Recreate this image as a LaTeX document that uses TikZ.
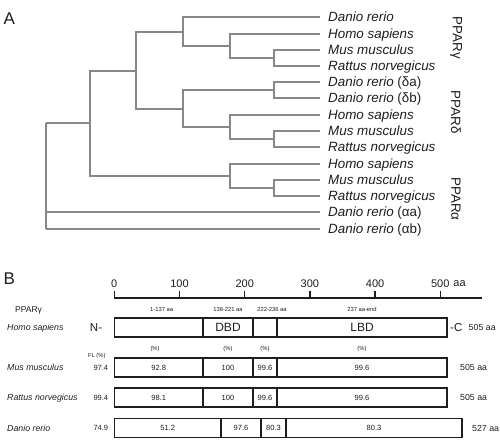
\documentclass[tikz,border=0pt]{standalone}
\usepackage{fontspec}
\setmainfont{Liberation Sans}
\usetikzlibrary{positioning}

\definecolor{branch}{RGB}{136,136,136}
\definecolor{ink}{RGB}{30,30,30}

\begin{document}
\begin{tikzpicture}[x=1pt, y=-1pt,
    hline/.style={draw=branch, line width=2pt},
    vline/.style={draw=branch, line width=2.8pt, line cap=rect},
    leaf/.style={anchor=west, inner xsep=8pt, inner ysep=0pt, text height=9.5pt, text depth=0pt,
                 font=\fontsize{13.4}{15}\selectfont\itshape, text=ink},
    group/.style={rotate=-90, inner sep=0pt, font=\fontsize{13.4}{15}\selectfont, text=ink},
    panel/.style={inner sep=0pt, text depth=0pt, font=\fontsize{17}{20}\selectfont, text=ink},
    axis/.style={draw=ink, line width=1.5pt},
    ticklab/.style={inner sep=1pt, text depth=0pt, font=\fontsize{11}{13}\selectfont, text=ink},
    seg/.style={draw=ink, line width=1.1pt, minimum height=19pt, inner sep=0pt, outer sep=0pt,
                text depth=0pt, font=\fontsize{7.5}{9}\selectfont, text=ink},
    big/.style={font=\fontsize{12}{14}\selectfont},
    hdr/.style={inner sep=0pt, text depth=0pt, font=\fontsize{5.8}{7}\selectfont, text=ink},
    val/.style={inner sep=0pt, text depth=0pt, font=\fontsize{7.5}{9}\selectfont, text=ink},
    len/.style={inner sep=0pt, text depth=0pt, font=\fontsize{8.8}{10}\selectfont, text=ink},
    species/.style={anchor=west, inner sep=0pt, text depth=0pt, font=\fontsize{8.8}{10}\selectfont\itshape, text=ink}]
    \useasboundingbox (0,0) rectangle (500,441);

    % Panel A: tree
    \node[panel] (A) at (9.3,18.8) {A};

    % Leaves:
    \foreach \n/\y/\t in {g1/17/Danio rerio, g2/34/Homo sapiens, g3/50/Mus musculus, g4/66/Rattus norvegicus,
            d1/82/Danio rerio \textup{(δa)}, d2/98/Danio rerio \textup{(δb)}, d3/115/Homo sapiens,
            d4/131/Mus musculus, d5/147/Rattus norvegicus,
            a1/164/Homo sapiens, a2/180/Mus musculus, a3/196/Rattus norvegicus,
            a4/212/Danio rerio \textup{(αa)}, a5/229/Danio rerio \textup{(αb)}}
        \node[leaf] (\n) at (320,\y) {\t};

    % Inner nodes:
    \coordinate (gMR)  at (274,58);
    \coordinate (gHMR) at (230,46);
    \coordinate (gAll) at (183,32);
    \coordinate (dD)   at (274,90);
    \coordinate (dMR)  at (274,139);
    \coordinate (dHMR) at (230,127);
    \coordinate (dAll) at (183,109);
    \coordinate (gd)   at (136,71);
    \coordinate (aMR)  at (274,188);
    \coordinate (aHMR) at (230,176);
    \coordinate (gda)  at (90,123);
    \coordinate (root) at (46,123);

    % Branches:
    \foreach \p/\a/\b in {gMR/g3.west/g4.west, gHMR/g2.west/gMR, gAll/g1.west/gHMR,
            dD/d1.west/d2.west, dMR/d4.west/d5.west, dHMR/d3.west/dMR, dAll/dD/dHMR,
            gd/gAll/dAll, aMR/a2.west/a3.west, aHMR/a1.west/aMR, gda/gd/aHMR}
        \draw[vline] (\p |- \a) -- (\p |- \b);
    \draw[hline] (root) -- (root |- a5.west);
    \foreach \p/\c in {gMR/g3.west, gMR/g4.west, gHMR/g2.west, gHMR/gMR, gAll/g1.west, gAll/gHMR,
            dD/d1.west, dD/d2.west, dMR/d4.west, dMR/d5.west, dHMR/d3.west, dHMR/dMR, dAll/dD, dAll/dHMR,
            gd/gAll, gd/dAll, aMR/a2.west, aMR/a3.west, aHMR/a1.west, aHMR/aMR, gda/gd, gda/aHMR,
            root/gda, root/a4.west, root/a5.west}
        \draw[hline] (\p |- \c) -- (\c);

    % Groups:
    \node[group] (lg) at (456,38) {PPARγ};
    \node[group] (ld) at (456,112) {PPARδ};
    \node[group] (la) at (456,199) {PPARα};

    % Panel B: domains
    \node[panel] (B) at (9.2,279) {B};

    % Axis:
    \draw[axis] (114.3,298) coordinate (ax0) -- (482,298) coordinate (ax1);
    \foreach \v [count=\i from 0] in {0,100,...,500}
        \draw[axis] (114.3+0.652*\v,298) -- ++(0,-7) node[ticklab, above=2pt] (t\i) {\v};
    \node[ticklab, right=1pt of t5] (unit) {aa};

    % Homo sapiens:
    \node[seg, minimum width=88.7pt, anchor=west] (hs1) at (114.3,327.5) {};
    \node[seg, big, minimum width=50pt, right=0pt of hs1] (hs2) {DBD};
    \node[seg, minimum width=24pt, right=0pt of hs2] (hs3) {};
    \node[seg, big, minimum width=170pt, right=0pt of hs3] (hs4) {LBD};
    \node[ticklab, inner sep=0pt, font=\fontsize{11.5}{13}\selectfont, left=12pt of hs1] (nterm) {N-};
    \node[ticklab, inner sep=0pt, font=\fontsize{11.5}{13}\selectfont, right=3pt of hs4] (cterm) {-C};
    \node[len, right=6pt of cterm] (hslen) {505 aa};
    \node[hdr, above=6pt of hs1, xshift=3pt] (h1) {1-137 aa};
    \node[hdr, above=6pt of hs2] (h2) {138-221 aa};
    \node[hdr, above=6pt of hs3, xshift=7pt] (h3) {222-236 aa};
    \node[hdr, above=6pt of hs4] (h4) {237 aa-end};
    \node[ticklab, anchor=west, inner sep=0pt, font=\fontsize{8.5}{10}\selectfont] (ppar) at (15,310) {PPARγ};
    \node[species] (sphs) at (7,0 |- hs1) {Homo sapiens};

    % Mus musculus:
    \node[seg, minimum width=88.7pt, anchor=west] (ms1) at (114.3,367.5) {92.8};
    \node[seg, minimum width=50pt, right=0pt of ms1] (ms2) {100};
    \node[seg, minimum width=24pt, right=0pt of ms2] (ms3) {99.6};
    \node[seg, minimum width=170pt, right=0pt of ms3] (ms4) {99.6};
    \node[val, left=6pt of ms1] (msfl) {97.4};
    \node[len, right=13pt of ms4] (mslen) {505 aa};
    \node[hdr, above=7.4pt of ms1, xshift=-3.6pt] (p1) {(\%)};
    \node[hdr, above=7.4pt of ms2] (p2) {(\%)};
    \node[hdr, above=7.4pt of ms3] (p3) {(\%)};
    \node[hdr, above=7.4pt of ms4] (p4) {(\%)};
    \node[hdr, above=7.4pt of msfl, xshift=-4pt] (fl) {FL (\%)};
    \node[species] (spms) at (7,0 |- ms1) {Mus musculus};

    % Rattus norvegicus:
    \node[seg, minimum width=88.7pt, anchor=west] (rn1) at (114.3,397.5) {98.1};
    \node[seg, minimum width=50pt, right=0pt of rn1] (rn2) {100};
    \node[seg, minimum width=24pt, right=0pt of rn2] (rn3) {99.6};
    \node[seg, minimum width=170pt, right=0pt of rn3] (rn4) {99.6};
    \node[val, left=6pt of rn1] (rnfl) {99.4};
    \node[len, right=13pt of rn4] (rnlen) {505 aa};
    \node[species] (sprn) at (7,0 |- rn1) {Rattus norvegicus};

    % Danio rerio:
    \node[seg, minimum width=106.7pt, anchor=west] (dr1) at (114.3,428) {51.2};
    \node[seg, minimum width=40pt, right=0pt of dr1] (dr2) {97.6};
    \node[seg, minimum width=25pt, right=0pt of dr2] (dr3) {80.3};
    \node[seg, minimum width=176pt, right=0pt of dr3] (dr4) {80.3};
    \node[val, left=6pt of dr1] (drfl) {74.9};
    \node[len, right=10pt of dr4] (drlen) {527 aa};
    \node[species] (spdr) at (7,0 |- dr1) {Danio rerio};
\end{tikzpicture}
\end{document}
